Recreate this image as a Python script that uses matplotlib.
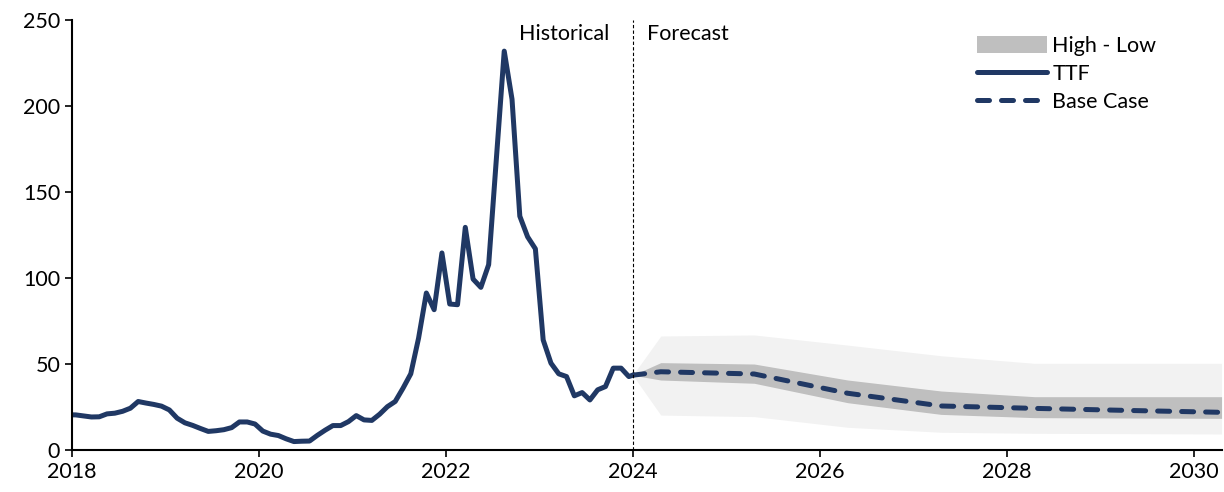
import numpy as np
import matplotlib
matplotlib.use('Agg')
import matplotlib.pyplot as plt
from matplotlib.patches import Patch
from matplotlib.lines import Line2D

plt.rcParams['font.family'] = ['Lato', 'DejaVu Sans']

# TTF monthly averages, Dec 2017 .. Dec 2023 (plotted mid-month)
ttf = [20.5,
       20.4, 19.8, 19.2, 19.3, 21.0, 21.4, 22.5, 24.3, 28.2, 27.3, 26.5, 25.5,
       23.3, 18.5, 15.8, 14.3, 12.5, 10.8, 11.2, 11.8, 13.0, 16.3, 16.3, 15.1,
       11.0, 9.2, 8.4, 6.5, 4.9, 5.1, 5.2, 8.5, 11.5, 14.2, 14.2, 16.5,
       20.0, 17.5, 17.2, 20.8, 25.2, 28.2, 35.9, 44.3, 65.0, 91.3, 81.6, 114.6,
       84.9, 84.5, 129.5, 99.4, 94.6, 107.8, 170.0, 232.0, 204.0, 136.0, 124.0, 117.0,
       64.0, 50.5, 44.3, 42.7, 31.5, 33.4, 29.1, 35.0, 36.9, 47.6, 47.6, 42.7]
ttf_x = 2018 + (np.arange(len(ttf)) - 0.5) / 12

# forecast
fc_x = [2024.0, 2024.3, 2025.3, 2026.3, 2027.3, 2028.3, 2029.3, 2030.3]
base = [43.5, 45.5, 44.2, 33.0, 25.6, 24.2, 23.0, 21.9]
outer_hi = [43.5, 66.3, 66.9, 61.0, 54.8, 50.4, 50.4, 50.4]
outer_lo = [43.5, 20.3, 19.4, 13.2, 10.3, 9.7, 9.5, 9.3]
inner_hi = [43.5, 50.8, 50.0, 40.7, 34.3, 31.0, 31.0, 31.0]
inner_lo = [43.5, 40.7, 38.8, 27.5, 20.7, 18.8, 18.6, 18.4]

navy = '#203864'
fs = 15.5
lw = 3.6
dash = (0, (2.4, 2.4))

fig = plt.figure(figsize=(12.24, 4.92), dpi=100)
ax = fig.add_axes([0.0588, 0.0854, 0.9392, 0.8736])

ax.fill_between(fc_x, outer_lo, outer_hi, color='#f2f2f2', lw=0)
ax.fill_between(fc_x, inner_lo, inner_hi, color='#bfbfbf', lw=0)
ax.plot(list(ttf_x) + [fc_x[0]], ttf + [base[0]], color=navy, lw=lw, solid_joinstyle='round')
ax.plot(fc_x, base, color=navy, lw=lw, ls=dash, dash_capstyle='round')

ax.axvline(2024, color='black', lw=0.8, ls=(0, (3, 2)))
ax.text(2023.75, 242, 'Historical', ha='right', va='center', fontsize=fs)
ax.text(2024.15, 242, 'Forecast', ha='left', va='center', fontsize=fs)

ax.set_xlim(2018, 2030.3)
ax.set_ylim(0, 250)
ax.set_xticks(range(2018, 2031, 2))
ax.set_yticks(range(0, 251, 50))
ax.tick_params(labelsize=fs, direction='out', length=5, width=1.2, colors='black')
for s in ['top', 'right']:
    ax.spines[s].set_visible(False)
for s in ['left', 'bottom']:
    ax.spines[s].set_linewidth(1.5)

handles = [Patch(facecolor='#bfbfbf', edgecolor='none', label='High - Low'),
           Line2D([], [], color=navy, lw=lw, solid_capstyle='round', label='TTF'),
           Line2D([], [], color=navy, lw=lw, ls=dash, dash_capstyle='round', label='Base Case')]
ax.legend(handles=handles, loc='upper right', bbox_to_anchor=(0.96, 1.008), frameon=False,
          fontsize=fs, handlelength=3.25, handleheight=0.85, labelspacing=0.36, handletextpad=0.25)

fig.savefig('out.png', dpi=100)
